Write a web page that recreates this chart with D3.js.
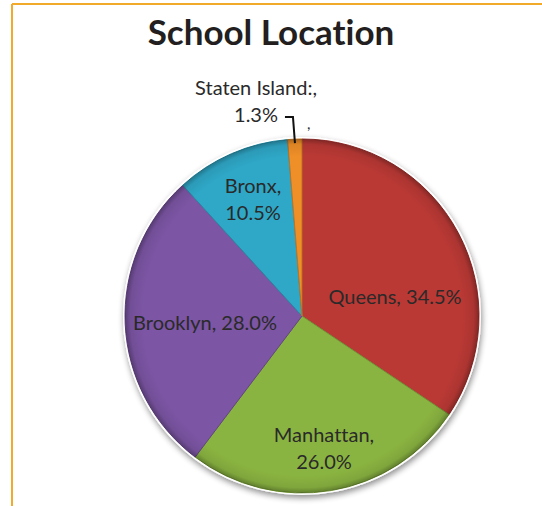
<!DOCTYPE html>
<html>
<head>
<meta charset="utf-8">
<script src="https://cdn.jsdelivr.net/npm/d3@7"></script>
<style>
  html, body { margin: 0; padding: 0; background: #fff; }
  svg { display: block; }
  text { font-variant-ligatures: none; font-feature-settings: "liga" 0; }
</style>
</head>
<body>
<div id="chart"></div>
<script>
// School location shares, clockwise from 12 o'clock
var boroughs = ["Queens", "Manhattan", "Brooklyn", "Bronx", "Staten Island"];
var shares = [34.5, 26.0, 28.0, 10.5, 1.3];
var labels = [
    ["Queens, 34.5%"],
    ["Manhattan,", "26.0%"],
    ["Brooklyn, 28.0%"],
    ["Bronx,", "10.5%"],
    ["Staten Island:,", "1.3%"]
];
var sliceColors = ["#bb3935", "#8ab441", "#7c55a4", "#2fa8c8", "#ef8f28"];

var width = 542, height = 506;
var cx = 302, cy = 316, radius = 177;

var svg = d3.select("#chart").append("svg")
    .attr("width", width)
    .attr("height", height);

var defs = svg.append("defs");

var shadow = defs.append("filter")
    .attr("id", "shadow")
    .attr("x", "-20%").attr("y", "-20%")
    .attr("width", "140%").attr("height", "140%");
shadow.append("feGaussianBlur").attr("in", "SourceAlpha").attr("stdDeviation", 3);
shadow.append("feOffset").attr("dx", 1).attr("dy", 3).attr("result", "blur");
shadow.append("feComponentTransfer").append("feFuncA").attr("type", "linear").attr("slope", 0.45);
var merge = shadow.append("feMerge");
merge.append("feMergeNode");
merge.append("feMergeNode").attr("in", "SourceGraphic");

// soft rim darkening to give the bevelled look
var rim = defs.append("radialGradient")
    .attr("id", "rim")
    .attr("gradientUnits", "userSpaceOnUse")
    .attr("cx", cx).attr("cy", cy).attr("r", radius);
rim.append("stop").attr("offset", "0.9").attr("stop-color", "#000").attr("stop-opacity", 0);
rim.append("stop").attr("offset", "0.97").attr("stop-color", "#000").attr("stop-opacity", 0.08);
rim.append("stop").attr("offset", "1").attr("stop-color", "#000").attr("stop-opacity", 0.3);

// frame
svg.append("line")
    .attr("x1", 12).attr("y1", 4).attr("x2", width).attr("y2", 4)
    .attr("stroke", "#f2aa2b").attr("stroke-width", 2);
svg.append("line")
    .attr("x1", 12).attr("y1", 4).attr("x2", 12).attr("y2", height)
    .attr("stroke", "#f2aa2b").attr("stroke-width", 2);

svg.append("text")
    .attr("x", 271)
    .attr("y", 45)
    .attr("text-anchor", "middle")
    .attr("font-family", "Lato, 'Open Sans', sans-serif")
    .attr("font-weight", "bold")
    .attr("font-size", 35)
    .attr("fill", "#231f20")
    .text("School Location");

var color = d3.scaleOrdinal().domain(boroughs).range(sliceColors);

var pie = d3.pie().sort(null).value(function(d) { return d.value; });
var arcs = pie(boroughs.map(function(b, i) { return {name: b, value: shares[i], label: labels[i]}; }));

var arc = d3.arc().innerRadius(0).outerRadius(radius);

var g = svg.append("g").attr("transform", "translate(" + cx + "," + cy + ")");

g.append("circle")
    .attr("r", radius + 2)
    .attr("fill", "#fff")
    .attr("filter", "url(#shadow)");

g.selectAll("path.slice")
    .data(arcs)
    .enter()
    .append("path")
        .attr("class", "slice")
        .attr("d", arc)
        .attr("fill", function(d) { return color(d.data.name); })
        .attr("stroke", function(d) { return d3.color(color(d.data.name)).darker(0.6); })
        .attr("stroke-width", 1);

svg.append("circle")
    .attr("cx", cx).attr("cy", cy).attr("r", radius)
    .attr("fill", "url(#rim)")
    .attr("pointer-events", "none");

// label positions, relative to the pie centre
var labelPos = {
    "Queens": [93, -12],
    "Manhattan": [22, 126],
    "Brooklyn": [-97, 14],
    "Bronx": [-49, -123],
    "Staten Island": [-46, -221]
};

var labelGroup = g.selectAll("text.label")
    .data(arcs)
    .enter()
    .append("text")
        .attr("class", "label")
        .attr("text-anchor", "middle")
        .attr("font-family", "Lato, 'Open Sans', sans-serif")
        .attr("font-size", 20)
        .attr("fill", "#2a2a2a")
        .attr("transform", function(d) {
            var p = labelPos[d.data.name];
            return "translate(" + p[0] + "," + p[1] + ")";
        });

labelGroup.selectAll("tspan")
    .data(function(d) { return d.data.label; })
    .enter()
    .append("tspan")
        .attr("x", 0)
        .attr("dy", function(d, i) { return i === 0 ? 0 : 27; })
        .text(function(d) { return d; });

// leader line for the small slice
var small = arcs[arcs.length - 1];
var mid = (small.startAngle + small.endAngle) / 2;
var tip = [Math.sin(mid) * (radius - 4), -Math.cos(mid) * (radius - 4)];
g.append("path")
    .attr("d", "M" + (tip[0] - 10) + "," + (-199) + "H" + (tip[0] - 2) + "L" + tip[0] + "," + tip[1])
    .attr("fill", "none")
    .attr("stroke", "#111")
    .attr("stroke-width", 2);

g.append("text")
    .attr("x", tip[0] + 12)
    .attr("y", -187)
    .attr("font-family", "Lato, 'Open Sans', sans-serif")
    .attr("font-size", 15)
    .attr("fill", "#2a2a2a")
    .text(",");
</script>
</body>
</html>
